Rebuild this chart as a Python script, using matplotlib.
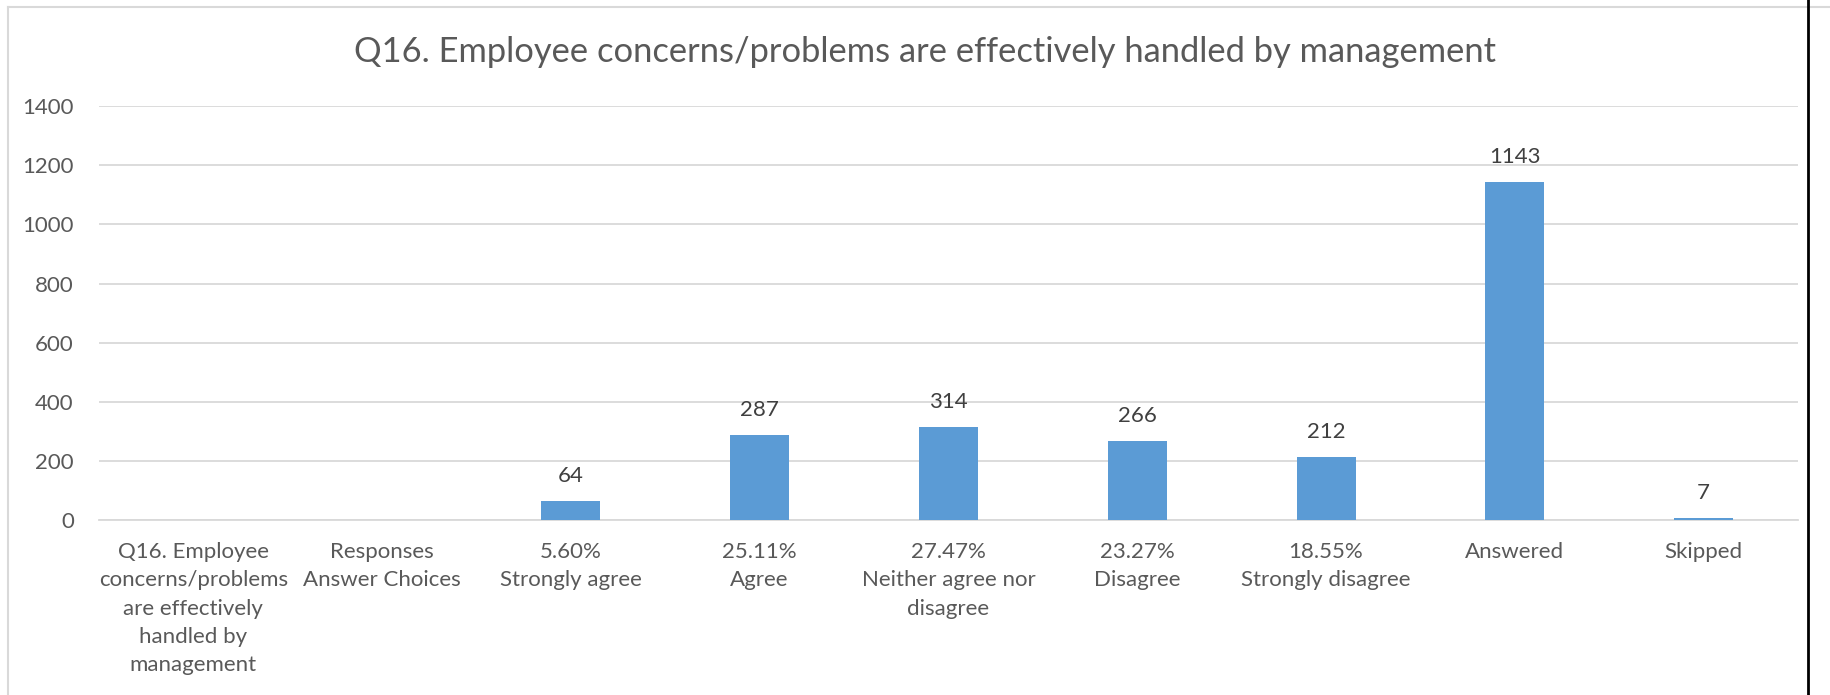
import matplotlib.pyplot as plt
from matplotlib.lines import Line2D

# =========================
# data
# =========================
categories = [
    "Q16. Employee\nconcerns/problems\nare effectively\nhandled by\nmanagement",
    "Responses\nAnswer Choices",
    "5.60%\nStrongly agree",
    "25.11%\nAgree",
    "27.47%\nNeither agree nor\ndisagree",
    "23.27%\nDisagree",
    "18.55%\nStrongly disagree",
    "Answered",
    "Skipped",
]
counts = [None, None, 64, 287, 314, 266, 212, 1143, 7]
yticks = [0, 200, 400, 600, 800, 1000, 1200, 1400]
title = "Q16. Employee concerns/problems are effectively handled by management"

# =========================
# style
# =========================
plt.rcParams['font.family'] = ['Lato', 'DejaVu Sans']
TXT = '#595959'
GRID = '#D9D9D9'
BAR = '#5B9BD5'

fig = plt.figure(figsize=(18.31, 6.95), dpi=100)
ax = fig.add_axes([0.054, 0.252, 0.928, 0.595])

x = list(range(len(categories)))
for i, v in zip(x, counts):
    if v is None:
        continue
    ax.bar(i, v, width=0.313, color=BAR, zorder=3)
    ax.annotate(str(v), (i, v), xytext=(0, 11), textcoords='offset points',
                ha='center', va='bottom', fontsize=16, color='#404040')

ax.set_xlim(-0.5, len(categories) - 0.5)
ax.set_ylim(0, 1400)
ax.set_yticks(yticks)
ax.set_yticklabels([str(t) for t in yticks], fontsize=16, color=TXT)
ax.set_xticks(x)
ax.set_xticklabels(categories, fontsize=16, color=TXT, linespacing=1.52)
ax.tick_params(axis='both', length=0)
ax.tick_params(axis='x', pad=16)
ax.tick_params(axis='y', pad=18)

ax.grid(axis='y', color=GRID, linewidth=1.3, zorder=0)
for s in ['top', 'right', 'left']:
    ax.spines[s].set_visible(False)
ax.spines['bottom'].set_color(GRID)
ax.spines['bottom'].set_linewidth(1.3)

fig.text(0.505, 0.925, title, ha='center', va='center', fontsize=24.8, color=TXT)

# chart border
fig.add_artist(Line2D([0.0045, 0.0045], [0, 0.99], transform=fig.transFigure,
                      color=GRID, linewidth=1.5))
fig.add_artist(Line2D([0.0045, 1.0], [0.99, 0.99], transform=fig.transFigure,
                      color=GRID, linewidth=1.5))
fig.add_artist(Line2D([0.9875, 0.9875], [0, 1], transform=fig.transFigure,
                      color='black', linewidth=2))

fig.savefig('out.png', dpi=100)
